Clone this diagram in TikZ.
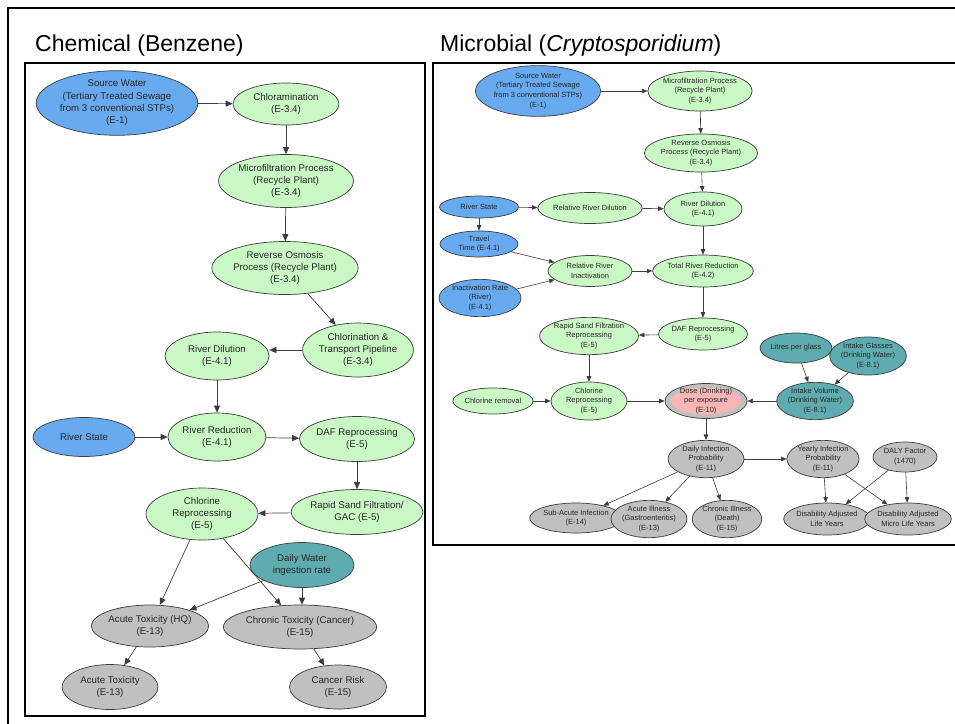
\documentclass[tikz,border=0pt]{standalone}
\usepackage{fontspec}
\setmainfont{Liberation Sans}
\usetikzlibrary{shapes.geometric,arrows.meta}

\definecolor{nblue}{RGB}{104,170,240}
\definecolor{ngreen}{RGB}{202,248,196}
\definecolor{nteal}{RGB}{95,172,176}
\definecolor{ngray}{RGB}{192,192,192}
\definecolor{npink}{RGB}{250,182,182}
\definecolor{nline}{RGB}{60,60,60}

\tikzset{
  nd/.style={ellipse, draw=nline, line width=0.7pt, inner sep=0pt, align=center, text=black!85},
  big/.style={nd, font=\fontsize{9.7}{12.3}\selectfont},
  sml/.style={nd, font=\fontsize{7.5}{9.7}\selectfont},
  sz/.style 2 args={minimum width=#1pt, minimum height=#2pt},
  blu/.style={fill=nblue},
  grn/.style={fill=ngreen},
  tea/.style={fill=nteal},
  gry/.style={fill=ngray},
  edbig/.style={draw=nline, line width=0.7pt, -{Triangle[length=7pt,width=6pt]}},
  edsml/.style={draw=nline, line width=0.6pt, -{Triangle[length=5.5pt,width=4.5pt]}},
  panel/.style={draw=black, line width=2.6pt},
  title/.style={anchor=base west, font=\fontsize{23}{27}\selectfont, inner sep=0pt}
}

\begin{document}
\begin{tikzpicture}[x=1pt,y=-1pt]
\useasboundingbox (0,0) rectangle (955,723);
\fill[white] (0,0) rectangle (955,723);

% frames
\begin{scope}
  \clip (0,0) rectangle (955,723);
  \draw[line width=2pt] (8,8) rectangle (980,760);
  \draw[panel] (25,63) rectangle (425,716);
  \draw[panel] (433,63) rectangle (980,545);
\end{scope}

% titles
\node[title] (tchem) at (35,51) {Chemical (Benzene)};
\node[title] (tmicro) at (440,51) {Microbial (\textit{Cryptosporidium})};

% ---------------- Chemical (Benzene) network ----------------
\node[big,blu,sz={138}{44}] (csrc) at (117,103) {Source Water\\(Tertiary Treated Sewage\\from 3 conventional STPs)\\(E-1)};
\node[big,grn,sz={106}{42}] (cchlm) at (286,104) {Chloramination\\(E-3.4)};
\node[big,grn,sz={126}{53}] (cmf) at (286,181) {Microfiltration Process\\(Recycle Plant)\\(E-3.4)};
\node[big,grn,sz={124}{53}] (cro) at (285,268) {Reverse Osmosis\\Process (Recycle Plant)\\(E-3.4)};
\node[big,grn,sz={106}{54}] (cctp) at (358,350) {Chlorination \&\\Transport Pipeline\\(E-3.4)};
\node[big,grn,sz={104}{48}] (cdil) at (217,356) {River Dilution\\(E-4.1)};
\node[big,blu,sz={102}{39}] (cstate) at (84,437) {River State};
\node[big,grn,sz={98}{48}] (cred) at (217,437) {River Reduction\\(E-4.1)};
\node[big,grn,sz={112}{45}] (cdaf) at (357,439) {DAF Reprocessing\\(E-5)};
\node[big,grn,sz={118}{45}] (crsf) at (357,512) {Rapid Sand Filtration/\\GAC (E-5)};
\node[big,grn,sz={112}{52}] (ccl) at (202,514) {Chlorine\\Reprocessing\\(E-5)};
\node[big,tea,sz={104}{45}] (cwater) at (302,565) {Daily Water\\ingestion rate};
\node[big,gry,sz={96}{42}] (cacuhq) at (150,626) {Acute Toxicity (HQ)\\(E-13)};
\node[big,gry,sz={134}{44}] (cchron) at (300,627) {Chronic Toxicity (Cancer)\\(E-15)};
\node[big,gry,sz={96}{45}] (cacu) at (110,687) {Acute Toxicity\\(E-13)};
\node[big,gry,sz={97}{44}] (crisk) at (338,687) {Cancer Risk\\(E-15)};

\draw[edbig] (csrc) -- (cchlm);
\draw[edbig] (cchlm) -- (cmf);
\draw[edbig] (cmf) -- (cro);
\draw[edbig] (cro) -- (cctp);
\draw[edbig] (cctp.west) -- (cdil.east |- cctp.west);
\draw[edbig] (cdil) -- (cred);
\draw[edbig] (cstate) -- (cred);
\draw[edbig] (cred) -- (cdaf);
\draw[edbig] (cdaf) -- (crsf);
\draw[edbig] (crsf) -- (ccl);
\draw[edbig] (ccl) -- (cacuhq);
\draw[edbig] (ccl) -- (cchron);
\draw[edbig] (cwater) -- (cacuhq);
\draw[edbig] (cwater.south) -- (cchron.north -| cwater.south);
\draw[edbig] (cacuhq) -- (cacu);
\draw[edbig] (cchron) -- (crisk);

% ---------------- Microbial (Cryptosporidium) network ----------------
\node[sml,blu,sz={108}{44}] (msrc) at (538,91) {Source Water\\(Tertiary Treated Sewage\\from 3 conventional STPs)\\(E-1)};
\node[sml,grn,sz={96}{40}] (mmf) at (700,91) {Microfiltration Process\\(Recycle Plant)\\(E-3.4)};
\node[sml,grn,sz={94}{38}] (mro) at (701,153) {Reverse Osmosis\\Process (Recycle Plant)\\(E-3.4)};
\node[sml,grn,sz={78}{34}] (mdil) at (703,209) {River Dilution\\(E-4.1)};
\node[sml,grn,sz={92}{32}] (mtot) at (703,271) {Total River Reduction\\(E-4.2)};
\node[sml,blu,sz={79}{22}] (mstate) at (479,207) {River State};
\node[sml,grn,sz={84}{31}] (mrel) at (590,208) {Relative River Dilution};
\node[sml,blu,sz={78}{26}] (mtravel) at (479,244) {Travel\\Time (E-4.1)};
\node[sml,blu,sz={82}{37}] (minact) at (480,298) {Inactivation Rate\\(River)\\(E-4.1)};
\node[sml,grn,sz={84}{31}] (mrelin) at (590,271) {Relative River\\Inactivation};
\node[sml,grn,sz={84}{32}] (mdaf) at (703,334) {DAF Reprocessing\\(E-5)};
\node[sml,grn,sz={88}{36}] (mrsf) at (589,336) {Rapid Sand Filtration\\Reprocessing\\(E-5)};
\node[sml,grn,sz={76}{38}] (mcl) at (589,401) {Chlorine\\Reprocessing\\(E-5)};
\node[sml,grn,sz={72}{26}] (mclr) at (493,401) {Chlorine removal};
\node[sml,gry,sz={82}{35}] (mdose) at (706,401) {};
\fill[npink] (706,401) ellipse [x radius=35pt, y radius=13.5pt];
\node[sml,draw=none,fill=none] (mdosetxt) at (706,401) {Dose (Drinking)\\per exposure\\(E-10)};
\node[sml,tea,sz={67}{30}] (mlitre) at (796,348) {Litres per glass};
\node[sml,tea,sz={70}{38}] (mglass) at (868,356) {Intake Glasses\\(Drinking Water)\\(E-8.1)};
\node[sml,tea,sz={70}{36}] (mvol) at (815,401) {Intake Volume\\(Drinking Water)\\(E-8.1)};
\node[sml,gry,sz={76}{35}] (mdaily) at (706,459) {Daily Infection\\Probability\\(E-11)};
\node[sml,gry,sz={68}{34}] (myear) at (823,459) {Yearly Infection\\Probability\\(E-11)};
\node[sml,gry,sz={64}{30}] (mdaly) at (905,457) {DALY Factor\\(1470)};
\node[sml,gry,sz={78}{30}] (msub) at (576,518) {Sub-Acute Infection\\(E-14)};
\node[sml,gry,sz={66}{32}] (mill) at (649,519) {Acute Illness\\(Gastroenteritis)\\(E-13)};
\node[sml,gry,sz={66}{32}] (mchr) at (727,519) {Chronic Illness\\(Death)\\(E-15)};
\node[sml,gry,sz={80}{32}] (mdalyl) at (827,519) {Disability Adjusted\\Life Years};
\node[sml,gry,sz={74}{32}] (mmicro) at (908,519) {Disability Adjusted\\Micro Life Years};

\draw[edsml] (msrc) -- (mmf);
\draw[edsml] (mmf) -- (mro);
\draw[edsml] (mro) -- (mdil);
\draw[edsml] (mstate) -- (mrel);
\draw[edsml] (mrel) -- (mdil);
\draw[edsml] (mstate) -- (mtravel);
\draw[edsml] (mtravel) -- (mrelin);
\draw[edsml] (minact) -- (mrelin);
\draw[edsml] (mrelin) -- (mtot);
\draw[edsml] (mdil) -- (mtot);
\draw[edsml] (mtot) -- (mdaf);
\draw[edsml] (mdaf) -- (mrsf);
\draw[edsml] (mrsf) -- (mcl);
\draw[edsml] (mclr) -- (mcl);
\draw[edsml] (mcl) -- (mdose);
\draw[edsml] (mlitre) -- (mvol);
\draw[edsml] (mglass) -- (mvol);
\draw[edsml] (mvol) -- (mdose);
\draw[edsml] (mdose) -- (mdaily);
\draw[edsml] (mdaily) -- (myear);
\draw[edsml] (mdaily) -- (msub);
\draw[edsml] (mdaily) -- (mill);
\draw[edsml] (mdaily) -- (mchr);
\draw[edsml] (myear) -- (mdalyl);
\draw[edsml] (myear) -- (mmicro);
\draw[edsml] (mdaly) -- (mdalyl);
\draw[edsml] (mdaly) -- (mmicro);
\end{tikzpicture}
\end{document}
